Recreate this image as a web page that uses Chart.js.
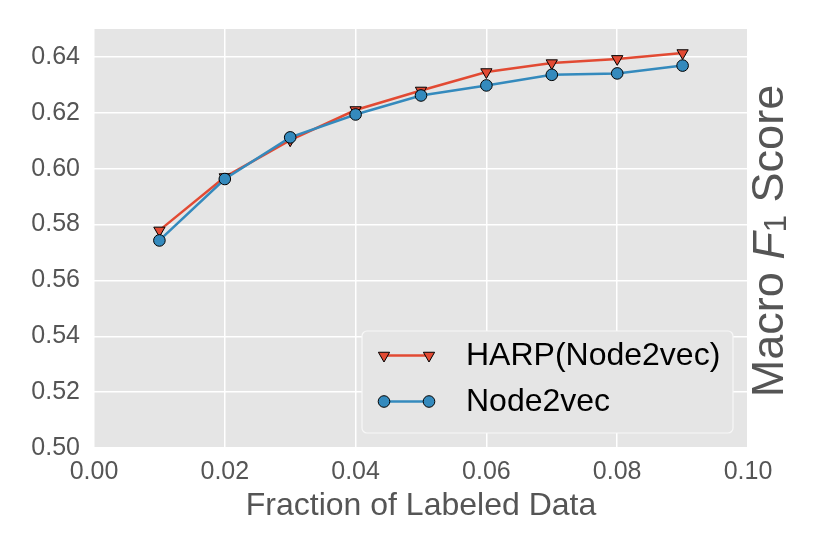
<!DOCTYPE html>
<html><head><meta charset="utf-8">
<script src="https://cdn.jsdelivr.net/npm/chart.js@4/dist/chart.umd.min.js"></script>
<style>html,body{margin:0;padding:0;background:#fff;}</style>
</head><body>
<canvas id="c" width="830" height="554" style="width:830px;height:554px;display:block"></canvas>
<script>
const fractions = [0.01, 0.02, 0.03, 0.04, 0.05, 0.06, 0.07, 0.08, 0.09];
const harpScores = [0.5779, 0.5970, 0.6102, 0.6210, 0.6280, 0.6346, 0.6378, 0.6393, 0.6414];
const node2vecScores = [0.5743, 0.5963, 0.6112, 0.6194, 0.6262, 0.6298, 0.6336, 0.6341, 0.6369];
const xTickValues = [0.00, 0.02, 0.04, 0.06, 0.08, 0.10];
const yTickValues = [0.50, 0.52, 0.54, 0.56, 0.58, 0.60, 0.62, 0.64];
const seriesNames = ['HARP(Node2vec)', 'Node2vec'];
const xTitle = 'Fraction of Labeled Data';
const yTitleParts = ['Macro ', 'F', '1', ' Score'];

const RED = '#E24A33', BLUE = '#348ABD';
const FONT = '"Liberation Sans", Arial, Helvetica, sans-serif';

const bgPlugin = {
  id: 'bg',
  beforeDraw(chart) {
    const {ctx, chartArea: a} = chart;
    ctx.save();
    ctx.fillStyle = '#E5E5E5';
    ctx.fillRect(a.left, a.top, a.right - a.left, a.bottom - a.top);
    ctx.restore();
  }
};

function drawMarker(ctx, style, x, y, color) {
  ctx.save();
  ctx.fillStyle = color;
  ctx.strokeStyle = '#000';
  ctx.lineWidth = 1;
  ctx.beginPath();
  if (style === 'circle') {
    ctx.arc(x, y, 5.8, 0, Math.PI * 2);
  } else {
    const r = 6.5;
    ctx.moveTo(x, y + r);
    ctx.lineTo(x - r * Math.sin(Math.PI / 3), y - r / 2);
    ctx.lineTo(x + r * Math.sin(Math.PI / 3), y - r / 2);
    ctx.closePath();
  }
  ctx.fill();
  ctx.stroke();
  ctx.restore();
}

const legendPlugin = {
  id: 'customLegend',
  afterDraw(chart) {
    const ctx = chart.ctx;
    ctx.save();
    const x = 362, y = 331, w = 371, h = 102, r = 5;
    ctx.beginPath();
    ctx.moveTo(x + r, y);
    ctx.arcTo(x + w, y, x + w, y + h, r);
    ctx.arcTo(x + w, y + h, x, y + h, r);
    ctx.arcTo(x, y + h, x, y, r);
    ctx.arcTo(x, y, x + w, y, r);
    ctx.closePath();
    ctx.fillStyle = '#E5E5E5';
    ctx.fill();
    ctx.strokeStyle = '#F7F7F7';
    ctx.lineWidth = 1.2;
    ctx.stroke();
    const rows = [
      {name: seriesNames[0], color: RED, style: 'tri', cy: 355.5},
      {name: seriesNames[1], color: BLUE, style: 'circle', cy: 401.5}
    ];
    rows.forEach(row => {
      ctx.strokeStyle = row.color;
      ctx.lineWidth = 2.5;
      ctx.beginPath();
      ctx.moveTo(384, row.cy);
      ctx.lineTo(429, row.cy);
      ctx.stroke();
      drawMarker(ctx, row.style, 384, row.cy, row.color);
      drawMarker(ctx, row.style, 429, row.cy, row.color);
      ctx.fillStyle = '#000';
      ctx.font = '32px ' + FONT;
      ctx.textBaseline = 'middle';
      ctx.textAlign = 'left';
      ctx.fillText(row.name, 466, row.cy + 1);
    });
    ctx.restore();
  }
};

const yTitlePlugin = {
  id: 'yTitleRight',
  afterDraw(chart) {
    const ctx = chart.ctx;
    const size = 45;
    const fonts = [
      size + 'px ' + FONT,
      'italic ' + size + 'px ' + FONT,
      Math.round(size * 0.7) + 'px ' + FONT,
      size + 'px ' + FONT
    ];
    const offsets = [0, 0, size * 0.15, 0];
    ctx.save();
    let widths = yTitleParts.map((t, i) => { ctx.font = fonts[i]; return ctx.measureText(t).width; });
    const total = widths.reduce((a, b) => a + b, 0);
    ctx.translate(771, 241);
    ctx.rotate(-Math.PI / 2);
    ctx.fillStyle = '#555555';
    ctx.textBaseline = 'middle';
    ctx.textAlign = 'left';
    let cx = -total / 2;
    yTitleParts.forEach((t, i) => {
      ctx.font = fonts[i];
      ctx.fillText(t, cx, offsets[i]);
      cx += widths[i];
    });
    ctx.restore();
  }
};

new Chart(document.getElementById('c'), {
  type: 'line',
  data: {
    datasets: [
      {
        label: seriesNames[0],
        data: fractions.map((f, i) => ({x: f, y: harpScores[i]})),
        borderColor: RED,
        backgroundColor: RED,
        borderWidth: 2.5,
        pointStyle: 'triangle',
        rotation: 180,
        pointRadius: 6.5,
        pointBorderColor: '#000',
        pointBorderWidth: 1,
        pointBackgroundColor: RED,
        tension: 0,
        order: 2
      },
      {
        label: seriesNames[1],
        data: fractions.map((f, i) => ({x: f, y: node2vecScores[i]})),
        borderColor: BLUE,
        backgroundColor: BLUE,
        borderWidth: 2.5,
        pointStyle: 'circle',
        pointRadius: 5.8,
        pointBorderColor: '#000',
        pointBorderWidth: 1,
        pointBackgroundColor: BLUE,
        tension: 0,
        order: 1
      }
    ]
  },
  options: {
    responsive: false,
    animation: false,
    devicePixelRatio: 1,
    layout: {padding: {top: 29, right: 82, left: 0, bottom: 0}},
    plugins: {legend: {display: false}, tooltip: {enabled: false}},
    scales: {
      x: {
        type: 'linear',
        min: 0, max: 0.10,
        afterBuildTicks(scale) { scale.ticks = xTickValues.map(v => ({value: v})); },
        afterFit(scale) { scale.height = 106; },
        grid: {color: '#FFFFFF', lineWidth: 1.5, drawTicks: false},
        border: {display: false},
        ticks: {
          padding: 9,
          color: '#555555',
          font: {family: FONT, size: 25},
          maxRotation: 0,
          callback: v => Number(v).toFixed(2)
        },
        title: {
          display: true,
          text: xTitle,
          color: '#555555',
          font: {family: FONT, size: 32},
          padding: {top: 0, bottom: 29}
        }
      },
      y: {
        type: 'linear',
        min: 0.50, max: 0.65,
        afterBuildTicks(scale) { scale.ticks = yTickValues.map(v => ({value: v})); },
        afterFit(scale) { scale.width = 94; },
        grid: {color: '#FFFFFF', lineWidth: 1.5, drawTicks: false},
        border: {display: false},
        ticks: {
          padding: 14,
          color: '#555555',
          font: {family: FONT, size: 25},
          callback: v => Number(v).toFixed(2)
        }
      }
    }
  },
  plugins: [bgPlugin, legendPlugin, yTitlePlugin]
});
</script>
</body></html>
